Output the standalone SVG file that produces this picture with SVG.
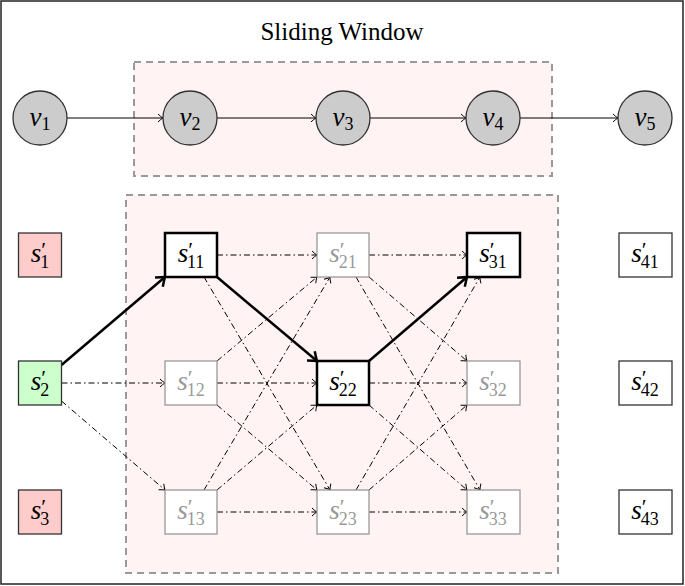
<svg xmlns="http://www.w3.org/2000/svg" width="685" height="586" viewBox="0 0 685 586">
<defs>
<marker id="a" markerUnits="userSpaceOnUse" markerWidth="12" markerHeight="12" refX="9" refY="6" orient="auto"><path d="M4,2 Q7,5 9,6 Q7,7 4,10" fill="none" stroke="#000" stroke-width="1"/></marker>
<marker id="b" markerUnits="userSpaceOnUse" markerWidth="16" markerHeight="16" refX="12" refY="8" orient="auto"><path d="M4,2 Q9,6 12,8 Q9,10 4,14" fill="none" stroke="#000" stroke-width="2.5"/></marker>
</defs>
<style>
text{font-family:"Liberation Serif",serif;font-size:27px;fill:#000}
.g text{fill:#999}
.i{font-style:italic}
.sm{font-size:18px}
.pr{font-size:22px;font-style:normal}
.box{fill:#fff;stroke:#333;stroke-width:1.3}
.gb{fill:#fff;stroke:#999;stroke-width:1.3}
.bb{fill:#fff;stroke:#000;stroke-width:2.5}
.win{fill:#fff3f4;stroke:#999;stroke-width:2;stroke-dasharray:7 5}
.c{fill:#ccc;stroke:#333;stroke-width:1.3}
.dd{stroke:#000;stroke-width:1;fill:none;stroke-dasharray:6 3 1.5 3;marker-end:url(#a)}
.so{stroke:#000;stroke-width:1;fill:none;marker-end:url(#a)}
.bo{stroke:#000;stroke-width:2.5;fill:none;marker-end:url(#b)}
</style>
<rect x="1" y="1" width="682" height="583" fill="#fff" stroke="#222" stroke-width="1.5"/>
<text x="342" y="40" text-anchor="middle" style="font-size:25px">Sliding Window</text>
<rect class="win" x="134" y="62" width="418" height="114"/>
<rect class="win" x="126" y="195" width="432" height="378"/>

<g id="connectors">
<line class="so" x1="67" y1="118" x2="163" y2="118"/>
<line class="so" x1="217" y1="118" x2="316" y2="118"/>
<line class="so" x1="370" y1="118" x2="466" y2="118"/>
<line class="so" x1="520" y1="118" x2="618" y2="118"/>
<line class="dd" x1="61.5" y1="383" x2="165" y2="383"/>
<line class="dd" x1="61.5" y1="401" x2="165" y2="490"/>
<line class="bo" x1="61.5" y1="365" x2="165" y2="277"/>
<line class="dd" x1="217" y1="255" x2="317" y2="255"/>
<line class="dd" x1="217" y1="383" x2="317" y2="383"/>
<line class="dd" x1="217" y1="512" x2="317" y2="512"/>
<line class="bo" x1="217" y1="277" x2="317" y2="361"/>
<line class="dd" x1="204" y1="277" x2="330" y2="490"/>
<line class="dd" x1="217" y1="361" x2="317" y2="277"/>
<line class="dd" x1="217" y1="405" x2="317" y2="490"/>
<line class="dd" x1="204" y1="490" x2="330" y2="277"/>
<line class="dd" x1="217" y1="490" x2="317" y2="405"/>
<line class="dd" x1="369" y1="255" x2="467" y2="255"/>
<line class="dd" x1="369" y1="383" x2="467" y2="383"/>
<line class="dd" x1="369" y1="512" x2="467" y2="512"/>
<line class="bo" x1="369" y1="361" x2="467" y2="277"/>
<line class="dd" x1="369" y1="277" x2="467" y2="361"/>
<line class="dd" x1="356" y1="277" x2="480" y2="490"/>
<line class="dd" x1="369" y1="405" x2="467" y2="490"/>
<line class="dd" x1="356" y1="490" x2="480" y2="277"/>
<line class="dd" x1="369" y1="490" x2="467" y2="405"/>
</g>

<g id="v1"><circle class="c" cx="40" cy="118" r="27"/><text x="40" y="126" text-anchor="middle"><tspan class="i">v</tspan><tspan class="sm" dy="4">1</tspan></text></g>
<g id="v2"><circle class="c" cx="190" cy="118" r="27"/><text x="190" y="126" text-anchor="middle"><tspan class="i">v</tspan><tspan class="sm" dy="4">2</tspan></text></g>
<g id="v3"><circle class="c" cx="343" cy="118" r="27"/><text x="343" y="126" text-anchor="middle"><tspan class="i">v</tspan><tspan class="sm" dy="4">3</tspan></text></g>
<g id="v4"><circle class="c" cx="493" cy="118" r="27"/><text x="493" y="126" text-anchor="middle"><tspan class="i">v</tspan><tspan class="sm" dy="4">4</tspan></text></g>
<g id="v5"><circle class="c" cx="645" cy="118" r="27"/><text x="645" y="126" text-anchor="middle"><tspan class="i">v</tspan><tspan class="sm" dy="4">5</tspan></text></g>

<g id="s1"><rect x="18.5" y="233" width="43" height="44" fill="#ffcccc" stroke="#333" stroke-width="1.3"/><text x="40" y="262" text-anchor="middle"><tspan class="i">s</tspan><tspan class="pr" dy="-5">′</tspan><tspan class="sm" dx="-6" dy="11">1</tspan></text></g>
<g id="s2"><rect x="18.5" y="361" width="43" height="44" fill="#ccffcc" stroke="#333" stroke-width="1.3"/><text x="40" y="390" text-anchor="middle"><tspan class="i">s</tspan><tspan class="pr" dy="-5">′</tspan><tspan class="sm" dx="-6" dy="11">2</tspan></text></g>
<g id="s3"><rect x="18.5" y="490" width="43" height="44" fill="#ffcccc" stroke="#333" stroke-width="1.3"/><text x="40" y="519" text-anchor="middle"><tspan class="i">s</tspan><tspan class="pr" dy="-5">′</tspan><tspan class="sm" dx="-6" dy="11">3</tspan></text></g>

<g id="s11"><rect class="bb" x="165" y="233" width="52" height="44"/><text x="191" y="262" text-anchor="middle"><tspan class="i">s</tspan><tspan class="pr" dy="-5">′</tspan><tspan class="sm" dx="-6" dy="11">11</tspan></text></g>
<g id="s12" class="g"><rect class="gb" x="165" y="361" width="52" height="44"/><text x="191" y="390" text-anchor="middle"><tspan class="i">s</tspan><tspan class="pr" dy="-5">′</tspan><tspan class="sm" dx="-6" dy="11">12</tspan></text></g>
<g id="s13" class="g"><rect class="gb" x="165" y="490" width="52" height="44"/><text x="191" y="519" text-anchor="middle"><tspan class="i">s</tspan><tspan class="pr" dy="-5">′</tspan><tspan class="sm" dx="-6" dy="11">13</tspan></text></g>
<g id="s21" class="g"><rect class="gb" x="317" y="233" width="52" height="44"/><text x="343" y="262" text-anchor="middle"><tspan class="i">s</tspan><tspan class="pr" dy="-5">′</tspan><tspan class="sm" dx="-6" dy="11">21</tspan></text></g>
<g id="s22"><rect class="bb" x="317" y="361" width="52" height="44"/><text x="343" y="390" text-anchor="middle"><tspan class="i">s</tspan><tspan class="pr" dy="-5">′</tspan><tspan class="sm" dx="-6" dy="11">22</tspan></text></g>
<g id="s23" class="g"><rect class="gb" x="317" y="490" width="52" height="44"/><text x="343" y="519" text-anchor="middle"><tspan class="i">s</tspan><tspan class="pr" dy="-5">′</tspan><tspan class="sm" dx="-6" dy="11">23</tspan></text></g>
<g id="s31"><rect class="bb" x="467" y="233" width="53" height="44"/><text x="493" y="262" text-anchor="middle"><tspan class="i">s</tspan><tspan class="pr" dy="-5">′</tspan><tspan class="sm" dx="-6" dy="11">31</tspan></text></g>
<g id="s32" class="g"><rect class="gb" x="467" y="361" width="53" height="44"/><text x="493" y="390" text-anchor="middle"><tspan class="i">s</tspan><tspan class="pr" dy="-5">′</tspan><tspan class="sm" dx="-6" dy="11">32</tspan></text></g>
<g id="s33" class="g"><rect class="gb" x="467" y="490" width="53" height="44"/><text x="493" y="519" text-anchor="middle"><tspan class="i">s</tspan><tspan class="pr" dy="-5">′</tspan><tspan class="sm" dx="-6" dy="11">33</tspan></text></g>
<g id="s41"><rect class="box" x="619" y="233" width="53" height="44"/><text x="645" y="262" text-anchor="middle"><tspan class="i">s</tspan><tspan class="pr" dy="-5">′</tspan><tspan class="sm" dx="-6" dy="11">41</tspan></text></g>
<g id="s42"><rect class="box" x="619" y="361" width="53" height="44"/><text x="645" y="390" text-anchor="middle"><tspan class="i">s</tspan><tspan class="pr" dy="-5">′</tspan><tspan class="sm" dx="-6" dy="11">42</tspan></text></g>
<g id="s43"><rect class="box" x="619" y="490" width="53" height="44"/><text x="645" y="519" text-anchor="middle"><tspan class="i">s</tspan><tspan class="pr" dy="-5">′</tspan><tspan class="sm" dx="-6" dy="11">43</tspan></text></g>
</svg>
